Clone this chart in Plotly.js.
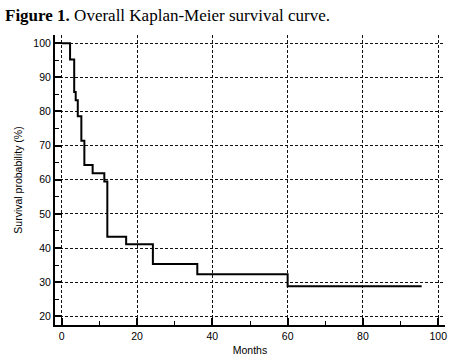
<!DOCTYPE html>
<html>
<head>
<meta charset="utf-8">
<script src="https://cdn.plot.ly/plotly-3.0.1.min.js"></script>
<style>html,body{margin:0;padding:0;background:#fff;}#chart{width:453px;height:360px;}</style>
</head>
<body>
<div id="chart"></div>
<script>
var months = [0, 2.2, 3.3, 3.7, 4.25, 5.2, 6.0, 8.2, 11.3, 12.1, 17.1, 24.2, 36.0, 60.0, 95.6];
var survival = [100, 95.2, 85.7, 83.3, 78.6, 71.4, 64.3, 61.9, 59.5, 43.3, 41.1, 35.3, 32.3, 28.8, 28.8];
var xTicks = [0, 20, 40, 60, 80, 100];
var yTicks = [20, 30, 40, 50, 60, 70, 80, 90, 100];

var trace = {
  x: months, y: survival, type: 'scatter', mode: 'lines',
  line: {shape: 'hv', color: '#000', width: 2},
  hoverinfo: 'skip'
};

var axisFont = {family: 'Liberation Sans, Arial, sans-serif', size: 10.5, color: '#000'};

var layout = {
  width: 453, height: 360,
  margin: {l: 55, r: 8, t: 35, b: 35, pad: 0},
  paper_bgcolor: '#fff', plot_bgcolor: '#fff',
  showlegend: false,
  title: {
    text: '<b>Figure 1.</b> Overall Kaplan-Meier survival curve.',
    font: {family: 'Liberation Serif, Times New Roman, serif', size: 17, color: '#000'},
    xref: 'container', yref: 'container', x: 5/453, xanchor: 'left', y: 1 - 15/360, yanchor: 'middle'
  },
  xaxis: {
    range: [-1.8, 101.8], tickvals: xTicks, ticktext: xTicks.map(String),
    ticks: 'inside', ticklen: 7, tickwidth: 2, tickcolor: '#000',
    minor: {dtick: 10, tick0: 0, ticks: 'inside', ticklen: 4, tickwidth: 1, tickcolor: '#000', showgrid: false},
    showline: true, linecolor: '#000', linewidth: 2, mirror: false,
    showgrid: true, gridcolor: '#111', gridwidth: 1, griddash: '3px,2px',
    zeroline: false, tickfont: axisFont,
    title: {text: 'Months', font: axisFont, standoff: 6}
  },
  yaxis: {
    range: [17.45, 102.4], tickvals: yTicks, ticktext: yTicks.map(String),
    ticks: 'inside', ticklen: 7, tickwidth: 2, tickcolor: '#000',
    minor: {dtick: 5, tick0: 0, ticks: 'inside', ticklen: 4, tickwidth: 1, tickcolor: '#000', showgrid: false},
    showline: true, linecolor: '#000', linewidth: 2, mirror: false,
    showgrid: true, gridcolor: '#111', gridwidth: 1, griddash: '3px,2px',
    zeroline: false, tickfont: axisFont,
    title: {text: 'Survival probability (%)', font: axisFont, standoff: 9}
  }
};

Plotly.newPlot('chart', [trace], layout, {displayModeBar: false, staticPlot: true});
</script>
</body>
</html>
